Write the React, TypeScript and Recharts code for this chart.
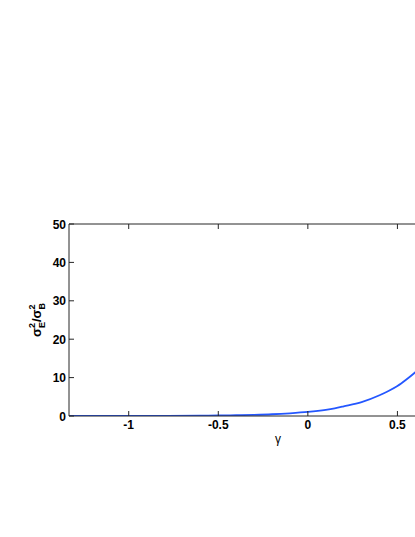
import { LineChart, Line, XAxis, YAxis } from "recharts";

// gamma values and sigma_E^2 / sigma_B^2
const gamma = [-1.333, -1.2, -1.0, -0.8, -0.6, -0.5, -0.4, -0.3, -0.2, -0.1, 0, 0.1, 0.15, 0.2, 0.3, 0.4, 0.45, 0.5, 0.55, 0.6, 0.62];
const ratio = [0.005, 0.01, 0.02, 0.04, 0.09, 0.14, 0.2, 0.3, 0.45, 0.7, 1.05, 1.6, 2.0, 2.5, 3.6, 5.4, 6.5, 7.8, 9.5, 11.4, 12.2];

const xTicks = [-1, -0.5, 0, 0.5];
const yTicks = [0, 10, 20, 30, 40, 50];

const data = gamma.map((g, i) => ({ g, r: ratio[i] }));

const FONT = "'Liberation Sans', Arial, sans-serif";
const AXIS = "#262626";

const BottomTick = (p: any) => (
  <g>
    <line x1={p.x} x2={p.x} y1={p.y} y2={p.y - 5} stroke={AXIS} />
    <text x={p.x} y={p.y + 13} textAnchor="middle" fontFamily={FONT} fontSize={12} fontWeight="bold" fill="#000">
      {p.payload.value}
    </text>
  </g>
);

const TopTick = (p: any) => <line x1={p.x} x2={p.x} y1={p.y} y2={p.y + 5} stroke={AXIS} />;

const LeftTick = (p: any) => (
  <g>
    <line x1={p.x} x2={p.x + 5} y1={p.y} y2={p.y} stroke={AXIS} />
    <text x={p.x - 3} y={p.y + 4.5} textAnchor="end" fontFamily={FONT} fontSize={12} fontWeight="bold" fill="#000">
      {p.payload.value}
    </text>
  </g>
);

const YLabel = ({ viewBox }: any) => {
  const cx = 33;
  const cy = viewBox.y + viewBox.height / 2;
  return (
    <text transform={`rotate(-90, ${cx}, ${cy})`} x={cx} y={cy} textAnchor="middle" fontFamily={FONT} fontWeight="bold" fontSize={13} fill="#000">
      <tspan>σ</tspan>
      <tspan fontSize={9} dy={-6}>2</tspan>
      <tspan fontSize={9} dx={-5} dy={10}>E</tspan>
      <tspan dy={-4}>/σ</tspan>
      <tspan fontSize={9} dy={-6}>2</tspan>
      <tspan fontSize={9} dx={-5} dy={10}>B</tspan>
    </text>
  );
};

const XLabel = ({ viewBox }: any) => (
  <text x={viewBox.x + viewBox.width / 2} y={viewBox.y + 26.5} textAnchor="middle" fontFamily={FONT} fontSize={12} fill="#000">
    γ
  </text>
);

export default function App() {
  return (
    <div style={{ width: 407, height: 521, overflow: "hidden" }}>
      <style>{"html, body { overflow: hidden; } body { margin-right: 0; }"}</style>
      <LineChart width={560} height={529} data={data} margin={{ top: 215, right: 81, bottom: 81, left: 0 }}>
        <XAxis
          xAxisId="bottom"
          dataKey="g"
          type="number"
          domain={[-1.3333, 1]}
          ticks={xTicks}
          allowDataOverflow
          height={40}
          tickSize={0}
          tickMargin={0}
          tickLine={false}
          axisLine={{ stroke: AXIS }}
          tick={BottomTick}
          label={<XLabel />}
        />
        <XAxis
          xAxisId="top"
          orientation="top"
          dataKey="g"
          type="number"
          domain={[-1.3333, 1]}
          ticks={xTicks}
          allowDataOverflow
          height={1}
          tickSize={0}
          tickMargin={0}
          tickLine={false}
          axisLine={{ stroke: AXIS }}
          tick={TopTick}
        />
        <YAxis
          type="number"
          domain={[0, 50]}
          ticks={yTicks}
          allowDataOverflow
          width={61}
          tickSize={0}
          tickMargin={0}
          tickLine={false}
          axisLine={{ stroke: AXIS }}
          tick={LeftTick}
          label={<YLabel />}
        />
        <Line
          xAxisId="bottom"
          type="monotone"
          dataKey="r"
          stroke="#2457ff"
          strokeWidth={1.8}
          dot={false}
          isAnimationActive={false}
        />
      </LineChart>
    </div>
  );
}
